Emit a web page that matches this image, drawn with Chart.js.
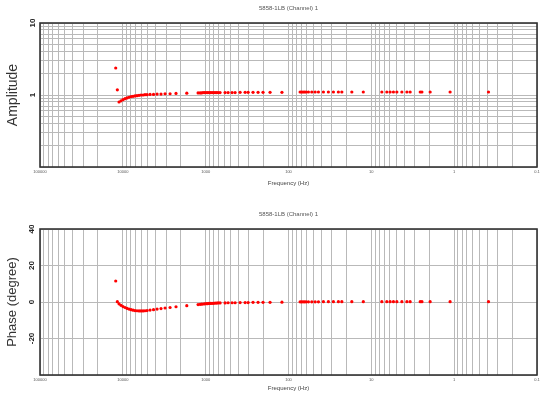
<!DOCTYPE html>
<html>
<head>
<meta charset="utf-8">
<script src="https://cdn.jsdelivr.net/npm/chart.js@4.4.1/dist/chart.umd.min.js"></script>
<style>
  html, body { margin: 0; padding: 0; background: #fff; }
  #wrap { position: relative; width: 550px; height: 398px; }
  .box { position: absolute; left: 0; width: 550px; }
  #ampBox { top: 0; height: 200px; }
  #phaseBox { top: 206px; height: 192px; }
</style>
</head>
<body>
<div id="wrap">
  <div class="box" id="ampBox"><canvas id="ampChart"></canvas></div>
  <div class="box" id="phaseBox"><canvas id="phaseChart"></canvas></div>
</div>
<script>
const chartTitle = '5858-1LB (Channel) 1';

// measured frequencies (Hz), high to low
const freqHz = [
  12190, 11650,
  11120, 10520, 9950, 9400, 8890, 8410, 7960, 7530, 7130, 6740, 6370, 6030, 5700, 5400, 5100,
  4690, 4260, 3860, 3460, 3090, 2690, 2280, 1690,
  1235, 1168, 1121, 1075, 1031, 989, 949, 910, 873, 837, 803, 770, 739, 708, 670,
  583, 536, 480, 441, 384, 334, 307, 268, 233, 203, 167,
  120, 72.4, 69.5, 66.7, 64.0, 61.3,
  57.5, 52.3, 47.7, 43.5, 37.9, 33.0, 28.7, 25.0, 22.7, 17.2, 12.5,
  7.47, 6.50, 5.93, 5.41, 4.92, 4.28, 3.72, 3.40,
  2.57, 2.45, 1.95, 1.12, 0.385
];

const amplitude = [
  2.37, 1.18,
  0.80, 0.83, 0.86, 0.89, 0.91, 0.93, 0.95, 0.96, 0.97, 0.98, 0.99, 1.00, 1.00, 1.01, 1.01,
  1.02, 1.02, 1.03, 1.03, 1.04, 1.04, 1.05, 1.06,
  1.07, 1.07, 1.07, 1.08, 1.08, 1.08, 1.08, 1.08, 1.08, 1.08, 1.08, 1.08, 1.08, 1.08, 1.08,
  1.08, 1.08, 1.08, 1.08, 1.09, 1.09, 1.09, 1.09, 1.09, 1.09, 1.09,
  1.09, 1.10, 1.10, 1.10, 1.10, 1.10,
  1.10, 1.10, 1.10, 1.10, 1.10, 1.10, 1.10, 1.10, 1.10, 1.10, 1.10,
  1.10, 1.10, 1.10, 1.10, 1.10, 1.10, 1.10, 1.10,
  1.10, 1.10, 1.10, 1.10, 1.10
];

const phaseDeg = [
  11.5, 0.2,
  -1.0, -1.8, -2.5, -3.0, -3.5, -3.9, -4.2, -4.5, -4.7, -4.8, -4.9, -4.9, -4.9, -4.8, -4.7,
  -4.4, -4.2, -3.9, -3.6, -3.3, -3.0, -2.6, -2.0,
  -1.4, -1.3, -1.2, -1.1, -1.0, -0.9, -0.9, -0.8, -0.8, -0.7, -0.7, -0.6, -0.6, -0.5, -0.5,
  -0.5, -0.4, -0.4, -0.4, -0.3, -0.3, -0.3, -0.2, -0.2, -0.2, -0.2,
  -0.1, 0.1, 0.1, 0.1, 0.1, 0.1,
  0.1, 0.1, 0.1, 0.1, 0.2, 0.2, 0.2, 0.2, 0.2, 0.2, 0.2,
  0.2, 0.2, 0.2, 0.2, 0.2, 0.2, 0.2, 0.2,
  0.2, 0.2, 0.2, 0.2, 0.2
];

const freqDecades = [0.1, 1, 10, 100, 1000, 10000, 100000];
const ampDecades = [0.1, 1, 10];
const phaseLabels = [-20, 0, 20, 40];

// 1-2-3...9 grid ticks for a log axis
function logGrid(lo, hi) {
  const vals = [];
  for (let e = Math.log10(lo); e < Math.log10(hi); e++) {
    for (let m = 1; m <= 9; m++) vals.push(+(m * Math.pow(10, e)).toPrecision(3));
  }
  vals.push(hi);
  return vals.map(v => ({ value: v }));
}

function isIn(list, v) {
  return list.some(d => Math.abs(d - v) < 1e-9 * Math.max(1, d));
}

const frame = {
  id: 'frame',
  beforeDatasetsDraw(chart) {
    const { ctx, chartArea: a } = chart;
    ctx.save();
    ctx.strokeStyle = '#333';
    ctx.lineWidth = 1.6;
    ctx.strokeRect(a.left, a.top, a.width, a.height);
    ctx.restore();
  }
};

const gridColor = '#b9b9b9';
const font = 'Liberation Sans, Arial, sans-serif';

function makeChart(canvasId, opts) {
  return new Chart(document.getElementById(canvasId), {
    type: 'scatter',
    data: {
      datasets: [{
        data: freqHz.map((f, i) => ({ x: f, y: opts.values[i] })),
        backgroundColor: '#ff0000',
        borderWidth: 0,
        pointRadius: 1.6,
      }],
    },
    options: {
      responsive: true,
      maintainAspectRatio: false,
      animation: false,
      layout: { padding: { right: 13 } },
      plugins: { legend: { display: false }, tooltip: { enabled: false } },
      scales: {
        x: {
          type: 'logarithmic',
          position: 'bottom',
          reverse: true,
          min: 0.1,
          max: 100000,
          afterBuildTicks: s => { s.ticks = logGrid(0.1, 100000); },
          afterFit: s => { s.height = opts.xHeight; },
          grid: { color: gridColor, drawTicks: false },
          border: { display: false },
          ticks: {
            autoSkip: false,
            maxRotation: 0,
            padding: 2,
            color: '#555',
            font: { family: font, size: 4 },
            callback: v => (isIn(freqDecades, v) ? String(v) : ''),
          },
          title: {
            display: true,
            text: 'Frequency (Hz)',
            color: '#444',
            font: { family: font, size: 6 },
            padding: { top: 0, bottom: opts.xTitlePad },
          },
        },
        top: {
          type: 'linear',
          position: 'top',
          afterFit: s => { s.height = 23; },
          grid: { display: false, drawTicks: false },
          border: { display: false },
          ticks: { display: false },
          title: {
            display: true,
            text: chartTitle,
            color: '#555',
            font: { family: font, size: 6 },
            padding: { top: 5, bottom: 0 },
          },
        },
        y: opts.y,
      },
    },
    plugins: [frame],
  });
}

const yCommon = {
  position: 'left',
  afterFit: s => { s.width = 40; },
  grid: { color: gridColor, drawTicks: false },
  border: { display: false },
};

makeChart('ampChart', {
  values: amplitude,
  xHeight: 33,
  xTitlePad: 13,
  y: Object.assign({}, yCommon, {
    type: 'logarithmic',
    min: 0.1,
    max: 10,
    afterBuildTicks: s => { s.ticks = logGrid(0.1, 10); },
    ticks: {
      autoSkip: false,
      minRotation: 90,
      maxRotation: 90,
      crossAlign: 'center',
      padding: 3,
      color: '#222',
      font: { family: font, size: 8, weight: 'bold' },
      callback: v => (isIn(ampDecades, v) && v >= 1 ? String(v) : ''),
    },
    title: {
      display: true,
      text: 'Amplitude',
      color: '#333',
      font: { family: font, size: 14 },
      padding: { top: 5, bottom: 0 },
    },
  }),
});

makeChart('phaseChart', {
  values: phaseDeg,
  xHeight: 23,
  xTitlePad: 6,
  y: Object.assign({}, yCommon, {
    type: 'linear',
    min: -40,
    max: 40,
    ticks: {
      stepSize: 20,
      minRotation: 90,
      maxRotation: 90,
      crossAlign: 'center',
      padding: 2,
      color: '#222',
      font: { family: font, size: 8, weight: 'bold' },
      callback: v => (phaseLabels.includes(v) ? String(v) : ''),
    },
    title: {
      display: true,
      text: 'Phase (degree)',
      color: '#333',
      font: { family: font, size: 13 },
      padding: { top: 5, bottom: 0 },
    },
  }),
});
</script>
</body>
</html>
